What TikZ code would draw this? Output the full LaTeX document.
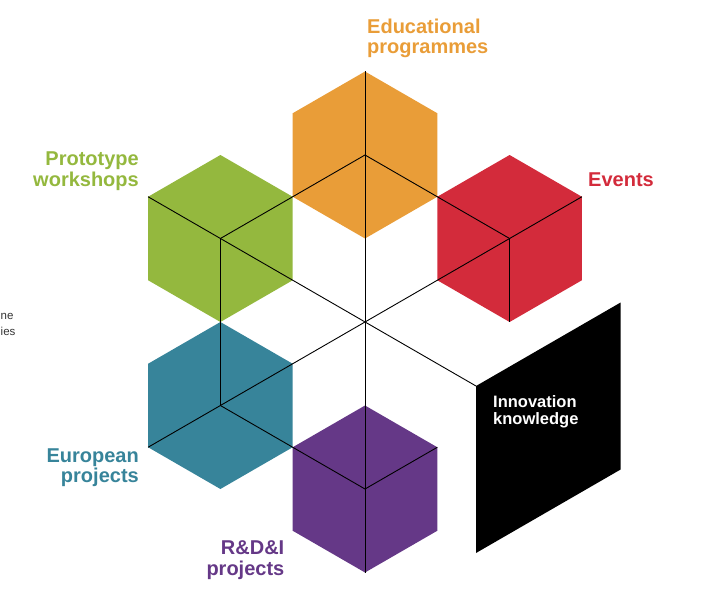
\documentclass[tikz,border=0pt]{standalone}
\usepackage{fontspec}
\setmainfont{Liberation Sans}
\usetikzlibrary{calc}
\definecolor{orangeC}{HTML}{E99D38}
\definecolor{greenC}{HTML}{94B83E}
\definecolor{redC}{HTML}{D32B3B}
\definecolor{tealC}{HTML}{37849A}
\definecolor{purpleC}{HTML}{653887}
\definecolor{fragC}{HTML}{333333}
\def\hexR{83.5}
\def\hexW{72.3}
\newcommand\hexpath[1]{(#1) ++(0,-\hexR) -- ++(\hexW,\hexR/2) -- ++(0,\hexR) -- ++(-\hexW,\hexR/2) -- ++(-\hexW,-\hexR/2) -- ++(0,-\hexR) -- cycle}
\tikzset{
  cubeline/.style={draw=black, line width=0.9pt},
  biglabel/.style={inner sep=0pt, font=\bfseries\fontsize{20}{20.5}\selectfont},
  smalllabel/.style={inner sep=0pt, font=\bfseries\fontsize{16.5}{17}\selectfont},
  fraglabel/.style={inner sep=0pt, anchor=base west, text=fragC, font=\fontsize{11.5}{13}\selectfont},
}
\begin{document}
\begin{tikzpicture}[x=1pt,y=-1pt]
\useasboundingbox (0,0) rectangle (714,607);
% centres
\coordinate (C) at (365,322);
\coordinate (O) at (365,155);
\coordinate (G) at (220.4,238.5);
\coordinate (Rd) at (509.6,238.5);
\coordinate (T) at (220.4,405.5);
\coordinate (P) at (365,489);
% black face
\coordinate (Ktl) at (476,386);
\coordinate (Ktr) at (620.6,302.5);
\coordinate (Kbr) at (620.6,469.5);
\coordinate (Kbl) at (476,553);
% hexagons
\fill[orangeC] \hexpath{O};
\fill[greenC] \hexpath{G};
\fill[redC] \hexpath{Rd};
\fill[tealC] \hexpath{T};
\fill[purpleC] \hexpath{P};
\fill[black] (Ktl) -- (Ktr) -- (Kbr) -- (Kbl) -- cycle;
% line end points
\coordinate (Otop) at ($(O)+(0,-\hexR)$);
\coordinate (Pbot) at ($(P)+(0,\hexR)$);
\coordinate (Gul) at ($(G)+(-\hexW,-\hexR/2)$);
\coordinate (Rur) at ($(Rd)+(\hexW,-\hexR/2)$);
\coordinate (Tll) at ($(T)+(-\hexW,\hexR/2)$);
\coordinate (Pur) at ($(P)+(\hexW,-\hexR/2)$);
\coordinate (Rbot) at ($(Rd)+(0,\hexR)$);
% lines
\draw[cubeline] (Otop) -- (Pbot);
\draw[cubeline] (Gul) -- (Ktl);
\draw[cubeline] (Rur) -- (Tll);
\draw[cubeline] (G) -- (O) -- (Rd);
\draw[cubeline] (G) -- (T);
\draw[cubeline] (T) -- (P) -- (Pur);
\draw[cubeline] (Rd) -- (Rbot);
% labels
\node[biglabel, text=orangeC, anchor=north west, align=left] (edu) at (367,18.6) {Educational\\programmes};
\node[biglabel, text=greenC, anchor=north east, align=right] (proto) at (139,151.6) {Prototype\\workshops};
\node[biglabel, text=redC, anchor=north west, align=left] (events) at (588,172.2) {Events};
\node[biglabel, text=tealC, anchor=north east, align=right] (euro) at (139,448.4) {European\\projects};
\node[biglabel, text=purpleC, anchor=north east, align=right] (rdi) at (284.5,540.6) {R\&D\&I\\projects};
\node[smalllabel, text=white, anchor=north west, align=left] (innov) at (493,395) {Innovation\\knowledge};
\node[fraglabel] (frag1) at (0.5,319.5) {ne};
\node[fraglabel] (frag2) at (0.5,335) {ies};
\end{tikzpicture}
\end{document}
